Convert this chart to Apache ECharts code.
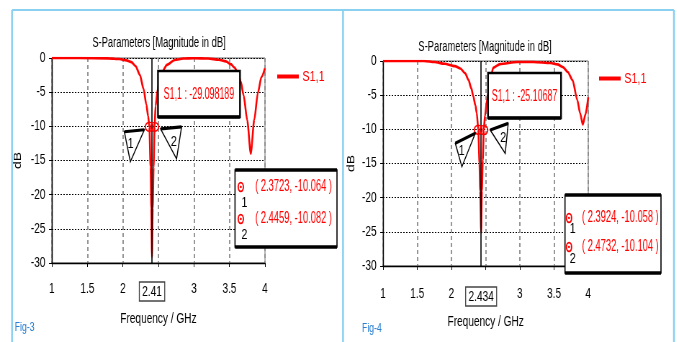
<!DOCTYPE html>
<html>
<head>
<meta charset="utf-8">
<script src="https://cdn.jsdelivr.net/npm/echarts@6/dist/echarts.min.js"></script>
<style>
  html, body { margin: 0; padding: 0; background: #fff; overflow: hidden; }
  #wrap { width: 677px; height: 342px; overflow: hidden; position: relative; }
  /* the two plots are drawn wide and squeezed horizontally */
  #chart { width: 940px; height: 342px; transform: scaleX(0.72); transform-origin: 0 0; }
</style>
</head>
<body>
<div id="wrap"><div id="chart"></div></div>
<script>
// ---------- Fig-3 : S1,1 magnitude (dB) versus frequency (GHz) ----------
const freq3 = [1.0, 1.4, 1.8, 1.95, 2.05, 2.12, 2.18, 2.24, 2.29, 2.33, 2.355, 2.3723, 2.39, 2.40, 2.41, 2.42, 2.432, 2.4459, 2.46, 2.49, 2.52, 2.55, 2.62, 2.73, 2.85, 3.0, 3.2, 3.35, 3.45, 3.52, 3.57, 3.62, 3.66, 3.7, 3.75, 3.8, 3.85, 3.9, 3.95, 4.0];
const s11_3 = [0, -0.01, -0.05, -0.15, -0.35, -0.6, -1.2, -2.5, -4.5, -6.8, -8.5, -10.064, -16, -22, -29.098189, -22, -16, -10.082, -7.0, -4.6, -3.0, -2.1, -1.0, -0.3, -0.08, -0.03, -0.08, -0.25, -0.5, -0.9, -1.4, -2.2, -3.5, -5.5, -9.1, -14, -9, -5.1, -2.8, -1.5];
const markerFreq3 = [2.3723, 2.4459];
const markerDb3 = [-10.064, -10.082];
const cursorFreq3 = 2.41;
const cursorDb3 = -29.098189;

// ---------- Fig-4 : S1,1 magnitude (dB) versus frequency (GHz) ----------
const freq4 = [1.0, 1.6, 1.75, 1.9, 2.05, 2.13, 2.2, 2.25, 2.29, 2.32, 2.35, 2.37, 2.3924, 2.41, 2.42, 2.434, 2.445, 2.458, 2.4732, 2.49, 2.52, 2.57, 2.61, 2.71, 2.96, 3.2, 3.45, 3.55, 3.63, 3.7, 3.77, 3.84, 3.88, 3.92, 3.96, 4.0];
const s11_4 = [0, 0, -0.15, -0.4, -0.75, -1.1, -1.8, -2.8, -4.0, -5.2, -6.5, -7.6, -10.058, -15, -19, -25.10687, -19, -14.5, -10.104, -8.0, -5.7, -2.8, -1.0, -0.45, -0.15, -0.15, -0.3, -0.5, -0.9, -1.6, -2.8, -5.7, -7.6, -9.3, -7.8, -5.3];
const markerFreq4 = [2.3924, 2.4732];
const markerDb4 = [-10.058, -10.104];
const cursorFreq4 = 2.434;
const cursorDb4 = -25.10687;

// ---------- shared axis ticks / texts ----------
const xTickValues = [1, 1.5, 2, 3, 3.5, 4];
const titleText = 'S-Parameters [Magnitude in dB]';
const xName = 'Frequency / GHz';
const yName = 'dB';
const seriesName = 'S1,1';
const figNames = ['Fig-3', 'Fig-4'];

const SQ = 0.72;                 // horizontal squeeze of the drawing
const FONT = "'Liberation Sans', Arial, sans-serif";
const RED = '#ff0000';
const FRAME = '#8ad0f0';

const panels = [
  { freq: freq3, db: s11_3, mf: markerFreq3, md: markerDb3, cf: cursorFreq3, cd: cursorDb3 },
  { freq: freq4, db: s11_4, mf: markerFreq4, md: markerDb4, cf: cursorFreq4, cd: cursorDb4 }
];

// layout of each panel (chart pixels, before the squeeze)
const layout = [
  { grid: { left: 72, top: 58, width: 296, height: 205 }, xNameGap: 49, yNameGap: 40, xLabelMargin: 19,
    legend: { left: 385, top: 69 }, title: [220.8, 43], fig: [20.5, 328],
    valBox: [219.4, 71, 113.9, 46], mkBox: [326.4, 170, 141.6, 77],
    mkRows: [17, 49], mkNum: [33, 65], mkSym: 8, mkText: 28,
    tri: [
      { pts: [[-25, 5], [-5, 3], [-19, 35]], lab: [-18.7, 17] },
      { pts: [[6, 2], [27, 0], [22, 32]], lab: [19.3, 15] }
    ] },
  { grid: { left: 532, top: 61, width: 285, height: 205 }, xNameGap: 49, yNameGap: 37, xLabelMargin: 21,
    legend: { left: 832, top: 71 }, title: [673.6, 47], fig: [502.8, 329],
    valBox: [677.8, 73, 101.4, 45], mkBox: [784.7, 195, 133.3, 78],
    mkRows: [23, 52], mkNum: [34, 64], mkSym: 5.6, mkText: 23.6,
    tri: [
      { pts: [[-23, 13.6], [-3, 3.6], [-16.4, 37]], lab: [-16.6, 21] },
      { pts: [[6.4, 0], [24.4, -6.7], [21.4, 23.3]], lab: [19.4, 8] }
    ] }
];

const chart = echarts.init(document.getElementById('chart'));

function xAxisFor(i) {
  const cf = panels[i].cf;
  const labels = xTickValues.slice(0, 3).concat([cf], xTickValues.slice(3));
  return {
    type: 'value', gridIndex: i, min: 1, max: 4, interval: 0.5,
    name: xName, nameLocation: 'middle', nameGap: layout[i].xNameGap,
    nameTextStyle: { fontSize: 14, color: '#000', fontFamily: FONT },
    axisLine: { show: true, onZero: false, lineStyle: { color: '#000', width: 1.4 } },
    axisTick: { show: true, length: 4, lineStyle: { color: '#000', width: 1 } },
    axisLabel: {
      customValues: labels, margin: layout[i].xLabelMargin, fontSize: 14, color: '#000', fontFamily: FONT,
      formatter: v => (Math.abs(v - cf) < 1e-9 ? '{box|' + cf + '}' : String(v)),
      rich: { box: { borderColor: '#444', borderWidth: 1.3, padding: [3, 4, 2, 4], fontSize: 14, color: '#000', fontFamily: FONT } }
    },
    splitLine: { show: true, lineStyle: { color: '#8a8a8a', type: [4, 3], width: 1.8 } }
  };
}

function yAxisFor(i) {
  return {
    type: 'value', gridIndex: i, min: -30, max: 0, interval: 5,
    name: yName, nameLocation: 'middle', nameGap: layout[i].yNameGap, nameRotate: 90,
    nameTextStyle: { fontSize: 14, color: '#000', fontFamily: FONT },
    axisLine: { show: true, onZero: false, lineStyle: { color: '#000', width: 1.4 } },
    axisTick: { show: true, length: 4, lineStyle: { color: '#000', width: 1 } },
    axisLabel: { margin: 9, fontSize: 14, color: '#000', fontFamily: FONT },
    splitLine: { show: true, lineStyle: { color: '#000', type: [2, 2], width: 1 } }
  };
}

function seriesFor(i) {
  const p = panels[i];
  return {
    type: 'line', name: seriesName, xAxisIndex: i, yAxisIndex: i,
    data: p.freq.map((f, k) => [f, p.db[k]]),
    showSymbol: false, smooth: 0.25, smoothMonotone: 'x',
    lineStyle: { color: RED, width: 2.6 }, itemStyle: { color: RED },
    markLine: {
      silent: true, symbol: 'none', label: { show: false },
      lineStyle: { color: '#000', width: 1.6, type: 'solid' },
      data: [{ xAxis: p.cf }]
    },
    markPoint: {
      silent: true, symbol: 'circle', symbolSize: [11, 9], label: { show: false },
      itemStyle: { color: 'rgba(255,255,255,0)', borderColor: RED, borderWidth: 1.6 },
      data: p.mf.map((f, k) => ({ coord: [f, p.md[k]] }))
    }
  };
}

chart.setOption({
  animation: false,
  grid: layout.map(l => Object.assign({ show: true, borderColor: '#666', borderWidth: 1, containLabel: false }, l.grid)),
  xAxis: [xAxisFor(0), xAxisFor(1)],
  yAxis: [yAxisFor(0), yAxisFor(1)],
  legend: layout.map(l => ({
    data: [seriesName], left: l.legend.left, top: l.legend.top, padding: 0,
    icon: 'rect', itemWidth: 30, itemHeight: 4, itemGap: 7, selectedMode: false,
    textStyle: { color: RED, fontSize: 15, fontFamily: FONT }
  })),
  series: [seriesFor(0), seriesFor(1)]
});

// overlays: frame, titles, value boxes, marker tables and marker callouts
function overlays() {
  const g = [];
  const Z = 100;
  g.push({ type: 'line', z: Z, shape: { x1: 16.7, y1: 10, x2: 936, y2: 10 }, style: { stroke: FRAME, lineWidth: 2 } });
  [16.7, 476.4, 936.1].forEach(x => g.push({ type: 'line', z: Z, shape: { x1: x, y1: 10, x2: x, y2: 342 }, style: { stroke: FRAME, lineWidth: 2.6 } }));

  layout.forEach((l, i) => {
    const p = panels[i];
    // title and figure tag
    g.push({ type: 'text', z: Z, x: l.title[0], y: l.title[1], scaleX: 0.93,
      style: { text: titleText, fontSize: 14, fontFamily: FONT, fill: '#000', align: 'center', verticalAlign: 'middle' } });
    g.push({ type: 'text', z: Z, x: l.fig[0], y: l.fig[1],
      style: { text: figNames[i], fontSize: 12, fontFamily: FONT, fill: '#2a80d2', align: 'left', verticalAlign: 'middle' } });

    // cursor value box
    const vb = l.valBox;
    g.push({ type: 'rect', z: Z, shape: { x: vb[0], y: vb[1], width: vb[2], height: vb[3] },
      style: { fill: '#fff', stroke: '#000', lineWidth: 2.4 } });
    g.push({ type: 'line', z: Z, shape: { x1: vb[0], y1: vb[1] + vb[3], x2: vb[0] + vb[2], y2: vb[1] + vb[3] },
      style: { stroke: '#000', lineWidth: 3.4 } });
    g.push({ type: 'text', z: Z + 1, x: vb[0] + vb[2] / 2, y: vb[1] + vb[3] / 2 + 1, scaleX: 0.77,
      style: { text: seriesName + ' : ' + p.cd, fontSize: 16, fontFamily: FONT, fill: RED, align: 'center', verticalAlign: 'middle' } });

    // marker table
    const mb = l.mkBox;
    g.push({ type: 'rect', z: Z, shape: { x: mb[0], y: mb[1], width: mb[2], height: mb[3] },
      style: { fill: '#fff', stroke: '#000', lineWidth: 1.6 } });
    [mb[1], mb[1] + mb[3]].forEach(y => g.push({ type: 'line', z: Z, shape: { x1: mb[0], y1: y, x2: mb[0] + mb[2], y2: y },
      style: { stroke: '#000', lineWidth: 3.4 } }));
    p.mf.forEach((f, k) => {
      const ry = mb[1] + l.mkRows[k];
      const sx = mb[0] + l.mkSym;
      g.push({ type: 'ellipse', z: Z + 1, shape: { cx: sx, cy: ry, rx: 3.6, ry: 4.4 }, style: { fill: 'none', stroke: RED, lineWidth: 1.9 } });
      g.push({ type: 'ellipse', z: Z + 1, shape: { cx: sx, cy: ry, rx: 1.4, ry: 1.2 }, style: { fill: RED } });
      g.push({ type: 'text', z: Z + 1, x: sx + 5, y: mb[1] + l.mkNum[k],
        style: { text: String(k + 1), fontSize: 15, fontFamily: FONT, fill: '#000', align: 'center', verticalAlign: 'middle' } });
      g.push({ type: 'text', z: Z + 1, x: mb[0] + l.mkText, y: ry, scaleX: 0.81,
        style: { text: '( ' + f + ', ' + p.md[k].toFixed(3) + ' )', fontSize: 16, fontFamily: FONT, fill: RED, align: 'left', verticalAlign: 'middle' } });
    });

    // marker callout triangles, anchored on the marker points
    p.mf.forEach((f, k) => {
      const c = chart.convertToPixel({ gridIndex: i }, [f, p.md[k]]);
      const t = l.tri[k];
      const pts = t.pts.map(q => [c[0] + q[0] / SQ, c[1] + q[1]]);
      g.push({ type: 'polygon', z: Z, shape: { points: pts }, style: { fill: '#fff', stroke: '#000', lineWidth: 1.4 } });
      g.push({ type: 'line', z: Z, shape: { x1: pts[0][0], y1: pts[0][1], x2: pts[1][0], y2: pts[1][1] }, style: { stroke: '#000', lineWidth: 3.2 } });
      g.push({ type: 'text', z: Z + 1, x: c[0] + t.lab[0] / SQ, y: c[1] + t.lab[1],
        style: { text: String(k + 1), fontSize: 15, fontFamily: FONT, fill: '#000', align: 'center', verticalAlign: 'middle' } });
    });
  });
  return g;
}

chart.setOption({ graphic: overlays() });
</script>
</body>
</html>
